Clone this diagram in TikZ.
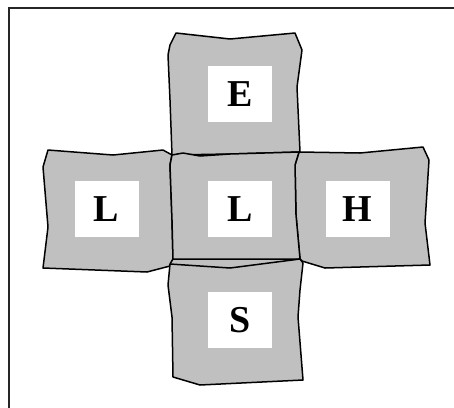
\documentclass[tikz,border=0pt]{standalone}
\usepackage{fontspec}
\setmainfont{Liberation Serif}
\definecolor{tilegray}{RGB}{192,192,192}

\begin{document}
\begin{tikzpicture}[x=1pt, y=-1pt,
        tile/.style={draw=black, fill=tilegray, line width=1.5pt, line join=round},
        lbox/.style={fill=white, inner sep=0pt, minimum width=64pt, minimum height=56pt,
                     text height=25pt, text depth=0pt,
                     font=\fontsize{38}{38}\selectfont\bfseries}
    ]
        \useasboundingbox (0,0) rectangle (454,407);
        % frame
        \draw[line width=1.4pt, black!85] (9,410) -- (9,8) -- (456,8);

        % tiles
        \draw[tile] (170,45) -- (176,33) -- (230,39) -- (295,33) -- (302,50)
            -- (297,87) -- (300,152) -- (230,154) -- (172,155)
            -- (170,100) -- (168,55) -- cycle;
        \draw[tile] (48,150) -- (113,155) -- (163,150) -- (172,155)
            -- (170,165) -- (172,220) -- (173,259) -- (170,266)
            -- (147,272) -- (43,268) -- (48,227) -- (43,167) -- cycle;
        \draw[tile] (299,152) -- (360,153) -- (423,147) -- (429,160)
            -- (425,223) -- (430,265) -- (325,268) -- (302,261)
            -- (300,259) -- (296,215) -- (295,165) -- cycle;
        \draw[tile] (173,259) -- (300,259) -- (303,263)
            -- (300,290) -- (298,317) -- (303,380) -- (200,385)
            -- (173,377) -- (172,317) -- (168,285) -- (170,264) -- cycle;
        \draw[tile] (172,155) -- (183,153) -- (200,156) -- (230,154) -- (299,152)
            -- (295,165) -- (296,215) -- (300,259) -- (230,259) -- (173,259)
            -- (172,220) -- (170,165) -- cycle;
        \draw[line width=1.5pt, line join=round] (170,264) -- (230,268) -- (300,259);

        % labels
        \node[lbox] (top)    at (240,94)    {E};
        \node[lbox] (left)   at (106.5,208.5) {L};
        \node[lbox] (centre) at (240,208.5) {L};
        \node[lbox] (right)  at (357.5,208.5) {H};
        \node[lbox] (bottom) at (240,319.5) {S};
    \end{tikzpicture}
\end{document}
